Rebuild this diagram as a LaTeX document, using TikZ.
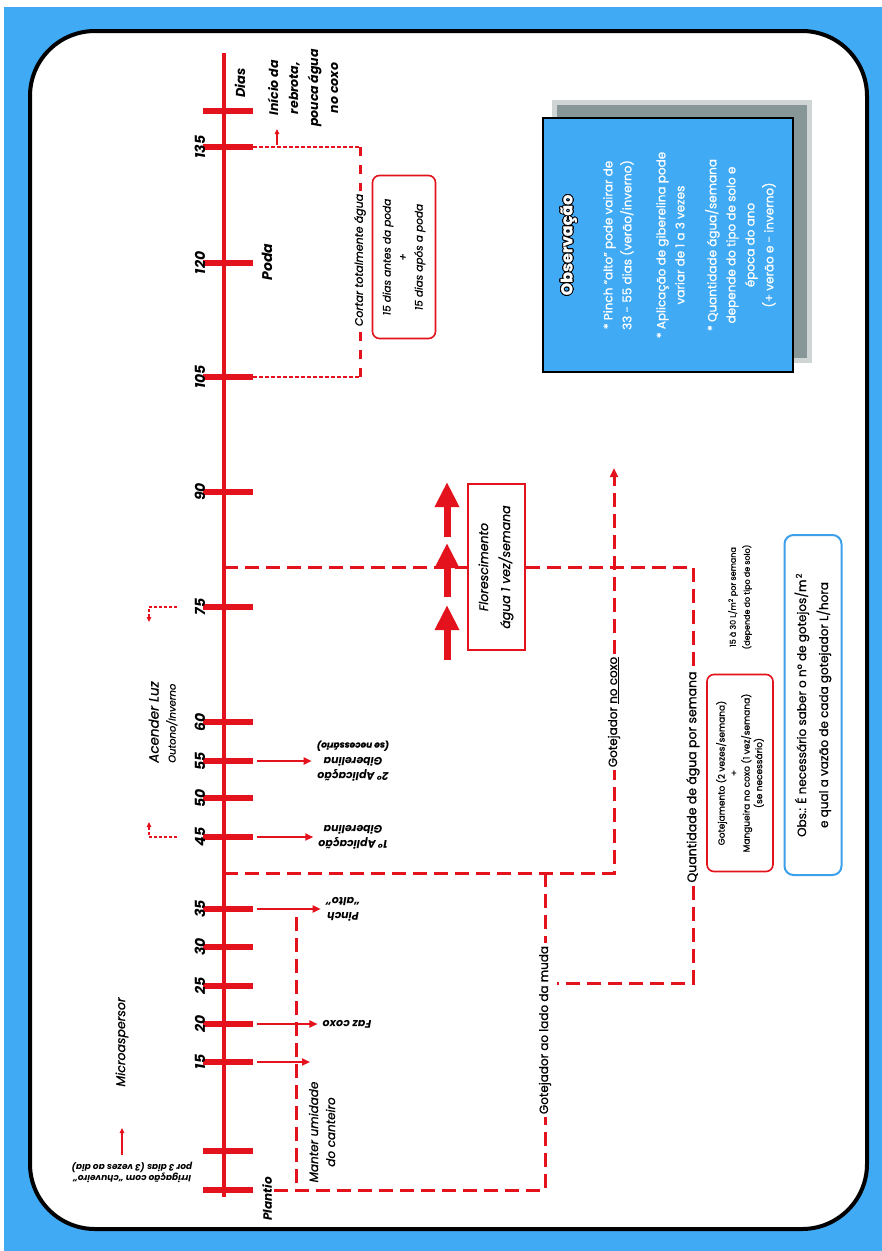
\documentclass[tikz,border=0pt]{standalone}
\usepackage{fontspec}
\setmainfont{Poppins}
\newfontfamily\medfont{Poppins}[FakeBold=0.8]
\usepackage{contour}
\contourlength{0.9pt}
\usetikzlibrary{arrows.meta,positioning,calc}

\definecolor{skyb}{RGB}{64,170,245}
\definecolor{redl}{RGB}{228,18,28}
\definecolor{shad}{RGB}{135,150,150}
\definecolor{obsb}{RGB}{60,160,235}

\begin{document}
\begin{tikzpicture}[x=1pt,y=-1pt]
  %----- styles
  \tikzset{
    tmark/.style ={fill=redl,minimum width=50,minimum height=6,inner sep=0},
    num/.style   ={rotate=90,font=\fontsize{14}{16}\selectfont\bfseries\itshape},
    upt/.style   ={rotate=90,align=center,inner sep=2pt},
    flip/.style  ={rotate=180,align=center,inner sep=5pt,font=\fontsize{11}{15}\selectfont\bfseries\itshape},
    lbl/.style   ={upt,fill=white,inner sep=3pt,font=\medfont\fontsize{12}{15}\selectfont},
    rbox/.style  ={upt,draw=redl,line width=1.6,rounded corners=7},
    dline/.style ={redl,line width=3,dash pattern=on 14pt off 7pt},
    fdash/.style ={redl,line width=2.5,dash pattern=on 4pt off 2pt},
    tarrow/.style={redl,line width=1.8,-{Triangle[length=8pt,width=7pt]}},
    sarrow/.style={redl,line width=1.2,-{Triangle[length=5pt,width=4.5pt]}},
    bigarrow/.style={redl,line width=7,-{Triangle[length=25pt,width=23pt]}}
  }

  %----- frame
  \useasboundingbox (0,0) rectangle (882,1251);
  \fill[skyb] (4,7) rectangle (882,1251);
  \draw[line width=4,fill=white,rounded corners=65] (30,31) rectangle (867,1229);

  %----- axis and ticks
  \coordinate (top) at (224,53);
  \coordinate (bot) at (224,1197);
  \draw[redl,line width=4] (top) -- (bot);
  \foreach \n/\y in {140/111,135/147,120/263,105/377,90/492,75/607,60/722,55/761,
                     50/798,45/837,35/909,30/947,25/986,20/1024,15/1062,3/1151,0/1190}
    \node[tmark] (t\n) at (228,\y) {};
  \foreach \n in {135,120,105,90,75,60,55,50,45,35,30,25,20,15}
    \node[num] at ([xshift=-28]t\n.center) {\n};

  %----- nodes
  % right of the axis, top
  \node[upt,font=\fontsize{13}{14}\selectfont\bfseries\itshape] (dias) at (240,83) {Dias};
  \node[upt,font=\fontsize{12.5}{20}\selectfont\bfseries\itshape] (rebrota) at (303,88)
       {Início da\\rebrota,\\pouca água\\no coxo};
  \node[upt,font=\fontsize{14}{16}\selectfont\bfseries\itshape] (poda) at (267,262) {Poda};
  \node[lbl,font=\medfont\fontsize{11}{14}\selectfont\itshape] (cut) at (360,260) {Cortar totalmente água};
  \node[rbox,minimum width=163,minimum height=63,font=\medfont\fontsize{10.5}{16}\selectfont\itshape] (pbox)
       at (404,257) {15 dias antes da poda\\+\\15 dias após a poda};

  % flowering
  \node[upt,draw=redl,line width=2,fill=white,minimum width=166,minimum height=57,
        font=\medfont\fontsize{12.5}{22}\selectfont\itshape] (flor) at (496,567) {Florescimento\\água 1 vez/semana};

  % left of the axis
  \node[upt,align=left,font=\medfont\fontsize{13.5}{17}\selectfont\itshape] (luz) at (163,722)
       {Acender Luz\\{\fontsize{10}{12}\selectfont Outono/Inverno}};
  \node[upt,font=\medfont\fontsize{12.5}{15}\selectfont\itshape] (micro) at (122,1042) {Microaspersor};
  \node[flip,font=\fontsize{9}{11}\selectfont\bfseries\itshape] (irr) at (132,1172)
       {Irrigação com “chuveiro”\\por 3 dias (3 vezes ao dia)};

  % tick notes
  \node[flip] (faz) at (347,1024) {Faz coxo};
  \node[flip] (pinch) at (343,909) {Pinch\\“alto”};
  \node[flip] (gib1) at (353,837) {1º Aplicação\\Giberelina};
  \node[flip] (gib2) at (353,761) {2º Aplicação\\Giberelina\\{\fontsize{9}{11}\selectfont\medfont\itshape(se necessário)}};
  \node[upt,font=\medfont\fontsize{12}{17}\selectfont\itshape] (mant) at (322,1132) {Manter umidade\\do canteiro};
  \node[upt,font=\fontsize{12}{13}\selectfont\bfseries\itshape] (plant) at (267,1199) {Plantio};

  % water lines
  \node[lbl] (coxo) at (614,712) {Gotejador \underline{no coxo}};
  \node[lbl] (lado) at (545,1030) {Gotejador ao lado da muda};
  \node[lbl,font=\medfont\fontsize{12.5}{15}\selectfont] (qty) at (693,777) {Quantidade de água por semana};
  \node[rbox,minimum width=197,minimum height=66,font=\medfont\fontsize{9}{12.5}\selectfont] (gbox) at (740,773)
       {Gotejamento (2 vezes/semana)\\+\\Mangueira no coxo (1 vez/semana)\\(se necessário)};
  \node[upt,font=\medfont\fontsize{8}{14}\selectfont] (litros) at (740,597)
       {15 à 30 L/m\textsuperscript{2} por semana\\(depende do tipo de solo)};
  \node[upt,draw=obsb,line width=2,rounded corners=9,minimum width=340,minimum height=57,
        font=\medfont\fontsize{12}{22}\selectfont] (obs) at (813,705)
       {Obs.: É necessário saber o nº de gotejos/m\textsuperscript{\,2}\\e qual a vazão de cada gotejador L/hora};

  % note box
  \fill[shad,opacity=0.4] (552,100) rectangle (812,363);
  \fill[shad] (557,105) rectangle (807,358);
  \node[upt,fill=skyb,draw=black,line width=2,minimum width=254,minimum height=250,text=white,
        font=\medfont\fontsize{12}{19}\selectfont] (note) at (668,245)
       {{\fontsize{16}{20}\selectfont\bfseries\contour{black}{Observação}}\\[21pt]
        * Pinch “alto” pode vairar de\\33 - 55 dias (verão/inverno)\\[15pt]
        * Aplicação de giberelina pode\\variar de 1 a 3 vezes\\[13pt]
        * Quantidade água/semana\\depende do tipo de solo e\\época do ano\\(+ verão e - inverno)};

  %----- connections
  % cutting water around pruning
  \draw[fdash] (t135.east) -- (t135.east -| cut);
  \draw[fdash] (t105.east) -- (t105.east -| cut);
  \draw[dline,dash pattern=on 9pt off 9pt] (t135.east -| cut) -- (cut);
  \draw[dline,dash pattern=on 9pt off 9pt] (t105.east -| cut) -- (cut);
  \coordinate (r1) at (277,145);
  \coordinate (r2) at (277,129);
  \draw[sarrow] (r1) -- (r2);

  % flowering and weekly water
  \coordinate (j80) at (224,567);
  \draw[dline] (j80) -- (flor);
  \draw[dline] (flor) -- (flor -| qty) -- (qty);
  \coordinate (qend) at (557,983);
  \draw[dline] (qty) |- (qend);
  \foreach \s/\e in {537/482,597/543,660/605}
    \draw[bigarrow] (447,\s) -- (447,\e);

  % drippers
  \coordinate (j40) at (224,873);
  \coordinate (ctop) at (614,468);
  \draw[dline] (j40) -- (j40 -| coxo) -- (coxo);
  \draw[dline,-{Triangle[length=9pt,width=8pt]}] (coxo) -- (ctop);
  \draw[dline] (j40 -| lado) -- (lado);
  \draw[dline] (t0.east -| plant.south) -- (t0.east -| lado) -- (lado);
  \coordinate (mtop) at (296,917);
  \draw[dline] (mtop) -- (mtop |- t0.east);

  % tick arrows
  \coordinate (a15) at (310,1062);
  \draw[tarrow,shorten <=4pt] (t15.east) -- (a15);
  \draw[tarrow,shorten <=4pt] (t20.east) -- (faz);
  \draw[tarrow,shorten <=4pt] (t35.east) -- (pinch);
  \draw[tarrow,shorten <=4pt] (t45.east) -- (gib1);
  \draw[tarrow,shorten <=4pt] (t55.east) -- (gib2);

  % light and sprinkler
  \coordinate (lz1) at (177,607);
  \coordinate (lz2) at (149,622);
  \coordinate (lz3) at (177,837);
  \coordinate (lz4) at (149,822);
  \draw[sarrow,dash pattern=on 3pt off 2pt] (lz1) -| (lz2);
  \draw[sarrow,dash pattern=on 3pt off 2pt] (lz3) -| (lz4);
  \coordinate (m1) at (122,1155);
  \coordinate (m2) at (122,1128);
  \draw[sarrow] (m1) -- (m2);
\end{tikzpicture}
\end{document}
